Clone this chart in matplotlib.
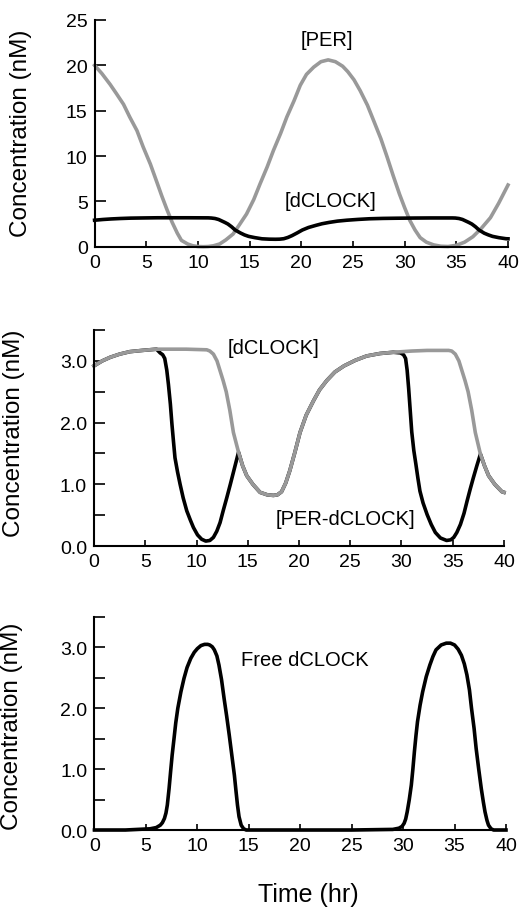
import numpy as np
import matplotlib.pyplot as plt
from matplotlib.ticker import MultipleLocator, FormatStrFormatter

plt.rcParams['font.family'] = ['Liberation Sans', 'DejaVu Sans']

# PER total (panel 1, gray)
t_per = [0, 0.7, 1.5, 2.1, 2.8, 3.4, 4.1, 4.7, 5.4, 6.0, 6.5, 7.0, 7.5, 8.0, 8.4, 9.0,
         9.5, 10.0, 10.5, 11.0, 11.5, 12.1, 12.7, 13.4, 14.0, 14.7, 15.4, 16.0, 16.7,
         17.3, 18.0, 18.6, 19.3, 19.9, 20.5, 21.2, 21.9, 22.6, 23.3, 24.0, 24.5,
         25.1, 25.7, 26.4, 27.0, 27.7, 28.3, 28.9, 29.5, 30.0, 30.5, 31.0, 31.5,
         32.1, 32.8, 33.5, 34.2, 35.0, 35.8, 36.6, 37.4, 38.3, 39.1, 40.0]
per = [20.0, 19.1, 17.9, 16.9, 15.7, 14.3, 12.8, 11.0, 9.1, 7.2, 5.6, 4.1, 2.7, 1.5, 0.7, 0.3,
       0.1, 0.02, 0.0, 0.02, 0.1, 0.3, 0.75, 1.4, 2.4, 3.6, 5.2, 6.9, 8.8,
       10.6, 12.5, 14.3, 16.1, 17.8, 19.0, 19.8, 20.4, 20.6, 20.4, 19.9, 19.3,
       18.4, 17.2, 15.6, 13.9, 11.9, 9.9, 7.8, 5.8, 4.3, 2.9, 1.85, 1.0,
       0.5, 0.2, 0.05, 0.02, 0.15, 0.5, 1.1, 2.0, 3.2, 4.8, 6.8]

# total dCLOCK (panel 1 black, panel 2 gray)
t_clk = [0, 0.8, 1.6, 2.5, 3.5, 4.7, 6.1, 9.0, 11.0, 11.3, 11.65, 12.0, 12.3, 12.6,
         12.9, 13.25, 13.6, 14.1, 14.5, 14.9, 15.5, 16.2, 16.9, 17.5, 17.9, 18.3,
         18.7, 19.1, 19.6, 20.1, 20.7, 21.4, 22.0, 22.7, 23.5, 24.4, 25.5, 26.6,
         27.9, 29.2, 31.0, 32.5, 34.6, 34.9, 35.25, 35.6, 35.9, 36.2, 36.5, 36.85,
         37.2, 37.7, 38.1, 38.5, 39.1, 39.8, 40.0]
clk = [2.92, 3.0, 3.06, 3.11, 3.15, 3.17, 3.19, 3.19, 3.18, 3.16, 3.11, 3.0, 2.84, 2.68,
       2.5, 2.2, 1.84, 1.52, 1.3, 1.14, 1.0, 0.87, 0.83, 0.82, 0.83, 0.88,
       1.02, 1.22, 1.52, 1.84, 2.12, 2.35, 2.53, 2.68, 2.82, 2.92, 3.01, 3.08,
       3.12, 3.14, 3.16, 3.17, 3.17, 3.16, 3.11, 3.0, 2.84, 2.68, 2.5, 2.2,
       1.84, 1.49, 1.3, 1.14, 1.0, 0.88, 0.87]

# PER-dCLOCK complex (panel 2, black)
t_cplx = [0, 0.8, 1.6, 2.5, 3.5, 4.7, 6.1, 6.45, 6.7, 6.9, 7.1, 7.26, 7.45, 7.6, 7.75,
          7.9, 8.15, 8.4, 8.7, 9.05, 9.4, 9.7, 10.1, 10.5, 10.9, 11.3, 11.65, 11.98,
          12.3, 12.6, 12.95, 13.3, 13.7, 14.1, 14.5, 14.9, 15.5, 16.2, 16.9, 17.5,
          17.9, 18.3, 18.7, 19.1, 19.6, 20.1, 20.7, 21.4, 22.0, 22.7, 23.5, 24.4,
          25.5, 26.6, 27.9, 29.2, 29.9, 30.2, 30.4, 30.55, 30.7, 30.85, 31.0, 31.2,
          31.4, 31.6, 31.8, 32.1, 32.5, 32.9, 33.3, 33.8, 34.4, 34.8, 35.1, 35.4,
          35.75, 36.1, 36.4, 36.7, 37.0, 37.35, 37.7, 38.1, 38.5, 39.1, 39.8, 40.0]
cplx = [2.92, 3.0, 3.06, 3.11, 3.15, 3.17, 3.19, 3.13, 3.1, 3.04, 2.85, 2.62, 2.3, 1.98, 1.7,
        1.43, 1.2, 1.0, 0.78, 0.57, 0.42, 0.3, 0.18, 0.11, 0.08, 0.09, 0.14, 0.24,
        0.38, 0.57, 0.78, 1.0, 1.26, 1.52, 1.3, 1.14, 1.0, 0.87, 0.83, 0.82,
        0.83, 0.88, 1.02, 1.22, 1.52, 1.84, 2.12, 2.35, 2.53, 2.68, 2.82, 2.92,
        3.01, 3.08, 3.12, 3.14, 3.13, 3.1, 3.04, 2.85, 2.55, 2.2, 1.85, 1.55,
        1.33, 1.1, 0.89, 0.7, 0.51, 0.35, 0.22, 0.13, 0.09, 0.1, 0.14, 0.22,
        0.35, 0.53, 0.73, 0.92, 1.1, 1.3, 1.49, 1.3, 1.14, 1.0, 0.88, 0.87]

# free dCLOCK (panel 3)
t_free = [0, 3.0, 5.4, 6.0, 6.4, 6.6, 6.8, 6.95, 7.08, 7.25, 7.4, 7.55, 7.73, 7.9, 8.1,
          8.4, 8.7, 9.0, 9.36, 9.7, 10.0, 10.35, 10.7, 11.0, 11.2, 11.45, 11.65, 11.9,
          12.1, 12.35, 12.6, 12.85, 13.1, 13.35, 13.6, 13.75, 13.9, 14.05, 14.26,
          14.5, 14.75, 20.0, 25.0, 29.0, 29.6, 29.9, 30.1, 30.25, 30.4, 30.6, 30.8,
          30.95, 31.1, 31.25, 31.4, 31.65, 31.9, 32.25, 32.6, 32.9, 33.2, 33.7, 34.2,
          34.6, 35.0, 35.35, 35.67, 35.95, 36.2, 36.45, 36.65, 36.9, 37.1, 37.35,
          37.6, 37.8, 37.96, 38.15, 38.3, 38.55, 38.8, 40.0]
free = [0, 0, 0.02, 0.04, 0.08, 0.12, 0.19, 0.28, 0.41, 0.68, 0.96, 1.23, 1.5, 1.76, 2.0,
        2.27, 2.49, 2.67, 2.82, 2.92, 2.98, 3.03, 3.05, 3.05, 3.04, 3.01, 2.96, 2.86,
        2.71, 2.47, 2.16, 1.87, 1.56, 1.23, 0.9, 0.65, 0.41, 0.22, 0.08,
        0.02, 0, 0, 0, 0.01, 0.03, 0.06, 0.11, 0.18, 0.3, 0.5, 0.74,
        1.0, 1.29, 1.55, 1.78, 2.05, 2.27, 2.52, 2.71, 2.85, 2.96, 3.04, 3.07,
        3.07, 3.04, 2.97, 2.87, 2.73, 2.55, 2.3, 2.0, 1.67, 1.34, 1.0,
        0.68, 0.46, 0.3, 0.16, 0.08, 0.02, 0, 0]

gray = '#999999'
lw = 2.6

fig = plt.figure(figsize=(5.22, 9.12), dpi=100)
ax1 = fig.add_axes([0.1812, 0.7284, 0.792, 0.2486])
ax2 = fig.add_axes([0.1801, 0.4002, 0.7854, 0.2368])
ax3 = fig.add_axes([0.1810, 0.0888, 0.7883, 0.2336])


def style(ax, ylab_x, ylab_y):
    for s in ['top', 'right']:
        ax.spines[s].set_visible(False)
    for s in ['left', 'bottom']:
        ax.spines[s].set_linewidth(1.5)
    ax.set_xlim(0, 40)
    ax.xaxis.set_major_locator(MultipleLocator(5))
    ax.tick_params(axis='x', direction='in', length=4, width=1.2, pad=5, labelsize=14)
    ax.tick_params(axis='y', which='both', direction='in', length=8, width=1.2,
                   pad=5, labelsize=14)
    ax.set_ylabel('Concentration (nM)', fontsize=17.5)
    ax.yaxis.set_label_coords(ylab_x, ylab_y)


# panel 1
ax1.plot(t_per, per, color=gray, lw=lw, clip_on=False)
ax1.plot(t_clk, clk, color='black', lw=lw, clip_on=False)
ax1.set_ylim(0, 25)
ax1.yaxis.set_major_locator(MultipleLocator(5))
style(ax1, -0.151, 0.506)
ax1.text(22.5, 22.9, '[PER]', ha='center', va='center', fontsize=14.5)
ax1.text(22.8, 5.1, '[dCLOCK]', ha='center', va='center', fontsize=14.5)

# panel 2
ax2.plot(t_cplx, cplx, color='black', lw=lw, clip_on=False)
ax2.plot(t_clk, clk, color=gray, lw=lw, clip_on=False)
ax2.set_ylim(0, 3.5)
style(ax2, -0.168, 0.528)
ax2.text(17.5, 3.22, '[dCLOCK]', ha='center', va='center', fontsize=14.5)
ax2.text(24.5, 0.44, '[PER-dCLOCK]', ha='center', va='center', fontsize=14.5)

# panel 3
ax3.plot(t_free, free, color='black', lw=lw, clip_on=False)
ax3.set_ylim(0, 3.5)
style(ax3, -0.174, 0.49)
ax3.text(20.4, 2.8, 'Free dCLOCK', ha='center', va='center', fontsize=14.5)

for ax in [ax2, ax3]:
    ax.yaxis.set_major_locator(MultipleLocator(1.0))
    ax.yaxis.set_minor_locator(MultipleLocator(0.5))
    ax.yaxis.set_major_formatter(FormatStrFormatter('%.1f'))

fig.text(308 / 522, 1 - 895 / 912, 'Time (hr)', ha='center', va='center', fontsize=18)

plt.savefig('out.png', dpi=100)
